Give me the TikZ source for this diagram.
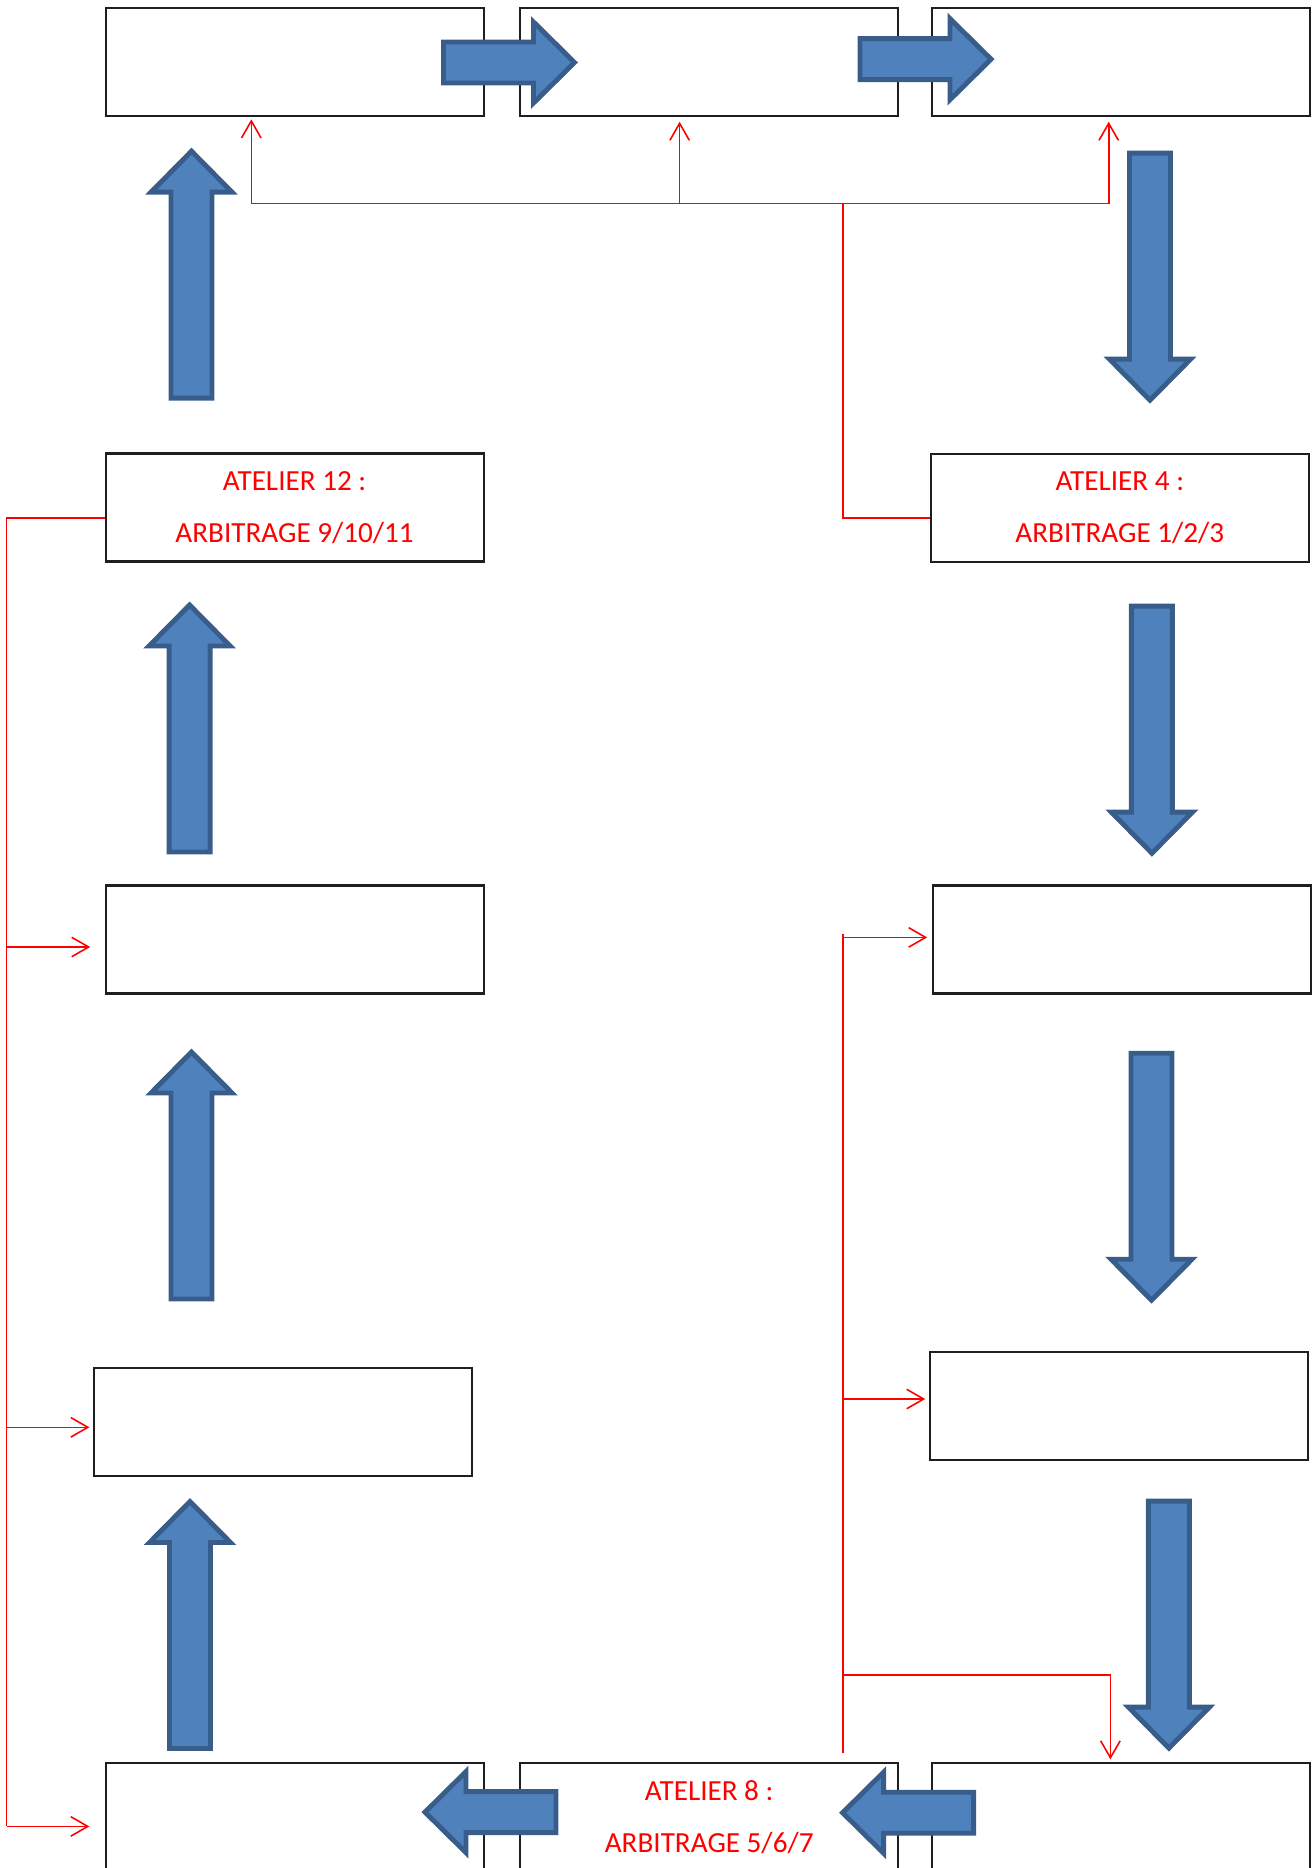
\documentclass[tikz,border=0pt]{standalone}
\usepackage{fontspec}
\setmainfont{Carlito}
\usepackage{tikz}
\usetikzlibrary{positioning, arrows.meta, calc}
\definecolor{fillBlueA}{RGB}{79,129,189}
\definecolor{borderBlueA}{RGB}{56,93,138}
\definecolor{frameGreyA}{RGB}{30,30,30}
\tikzset{
  atelier/.style={rectangle, minimum width=3.78cm, minimum height=1.08cm, draw=frameGreyA, line width=0.6pt, fill=white, text=red, align=center, font=\fontsize{8.3}{14.9}\selectfont},
  liaison/.style={red, line width=0.45pt},
  fleche/.style={liaison, -{Straight Barb[length=1.7mm, width=1.95mm]}},
  bloc/.style={draw=borderBlueA, fill=fillBlueA, line width=1.4pt, miter limit=10},
  pics/grossefleche/.style={code={
    \draw[bloc] (0,-0.205) -- (#1-0.41,-0.205) -- (#1-0.41,-0.405) -- (#1,0)
      -- (#1-0.41,0.405) -- (#1-0.41,0.205) -- (0,0.205) -- cycle;
  }}
}

\begin{document}
\begin{tikzpicture}
    \useasboundingbox (0,0) rectangle (13.14,-18.68);

    % Cases du haut
    \node[atelier] (boxA) at (2.95,-0.623) {};
    \node[atelier] (boxB) at (7.092,-0.623) {};
    \node[atelier] (boxC) at (11.214,-0.623) {};

    % Ateliers d'arbitrage
    \node[atelier] (at12) at (2.946,-5.075) {ATELIER 12 :\\ARBITRAGE 9/10/11};
    \node[atelier] (at4) at (11.198,-5.08) {ATELIER 4 :\\ARBITRAGE 1/2/3};

    % Cases intermediaires
    \node[atelier] (l3) at (2.95,-9.395) {};
    \node[atelier] (r3) at (11.216,-9.395) {};
    \node[atelier] (l4) at (2.833,-14.217) {};
    \node[atelier] (r4) at (11.187,-14.059) {};

    % Cases du bas
    \node[atelier] (bl) at (2.95,-18.17) {};
    \node[atelier] (at8) at (7.092,-18.17) {ATELIER 8 :\\ARBITRAGE 5/6/7};
    \node[atelier] (br) at (11.214,-18.17) {};

    % Liaisons rouges : atelier 4 vers le haut
    \coordinate (hub) at (8.427,-2.033);
    \coordinate (pA) at ([xshift=-0.437cm, yshift=-0.02cm]boxA.south);
    \coordinate (pB) at ([xshift=-0.296cm, yshift=-0.044cm]boxB.south);
    \coordinate (pC) at ([xshift=-0.127cm, yshift=-0.044cm]boxC.south);
    \draw[liaison] ([yshift=-0.1cm]at4.west) -| (hub);
    \draw[fleche] (hub) -| (pA);
    \draw[fleche] (hub) -| (pC);
    \draw[fleche] (pB |- hub) -- (pB);

    % Liaisons rouges : atelier 12 vers la gauche
    \coordinate (gauche) at (0.067,-5.18);
    \coordinate (qA) at ([xshift=-0.147cm, yshift=-0.075cm]l3.west);
    \coordinate (qB) at ([xshift=-0.038cm, yshift=-0.056cm]l4.west);
    \coordinate (qC) at ([xshift=-0.156cm, yshift=-0.094cm]bl.west);
    \draw[liaison] ([yshift=-0.105cm]at12.west) -| (gauche |- qC);
    \draw[fleche] (gauche |- qA) -- (qA);
    \draw[fleche] (gauche |- qB) -- (qB);
    \draw[fleche] (gauche |- qC) -- (qC);

    % Liaisons rouges : atelier 8 vers la droite
    \coordinate (depart) at ([xshift=1.335cm, yshift=0.091cm]at8.north);
    \coordinate (rA) at ([xshift=-0.043cm, yshift=0.021cm]r3.west);
    \coordinate (rB) at ([xshift=-0.034cm, yshift=0.069cm]r4.west);
    \coordinate (rC) at ([xshift=-0.11cm, yshift=0.026cm]br.north);
    \draw[liaison] (depart) -- ($(depart |- rA)+(0,0.038)$);
    \draw[fleche] (depart |- rA) -- (rA);
    \draw[fleche] (depart |- rB) -- (rB);
    \draw[fleche] ($(depart)+(0,0.779)$) -| (rC);

    % Grosses fleches bleues
    \pic at (4.435,-0.625) {grossefleche=1.31};
    \pic at (8.60,-0.592) {grossefleche=1.31};
    \pic[rotate=-90] at (11.50,-1.532) {grossefleche=2.47};
    \pic[rotate=-90] at (11.519,-6.062) {grossefleche=2.47};
    \pic[rotate=-90] at (11.515,-10.532) {grossefleche=2.47};
    \pic[rotate=-90] at (11.689,-15.011) {grossefleche=2.47};
    \pic[rotate=180] at (9.736,-18.127) {grossefleche=1.31};
    \pic[rotate=180] at (5.56,-18.121) {grossefleche=1.31};
    \pic[rotate=90] at (1.90,-17.485) {grossefleche=2.47};
    \pic[rotate=90] at (1.915,-12.99) {grossefleche=2.47};
    \pic[rotate=90] at (1.896,-8.52) {grossefleche=2.47};
    \pic[rotate=90] at (1.915,-3.982) {grossefleche=2.47};
\end{tikzpicture}
\end{document}
